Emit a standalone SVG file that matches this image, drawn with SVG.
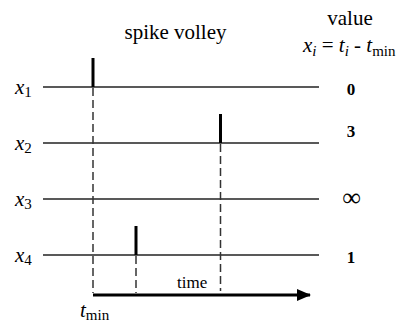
<svg xmlns="http://www.w3.org/2000/svg" width="401" height="324" viewBox="0 0 401 324">
<style>
.lbl{font-size:21px}
.it{font-style:italic}
.sub{font-size:15px}
.val{font-size:17px;font-weight:bold}
.row{stroke:#222;stroke-width:1.5;fill:none}
.spike{stroke:#000;stroke-width:3;fill:none}
.dash{stroke:#333;stroke-width:1.5;stroke-dasharray:8 4;fill:none}
</style>
<defs>
<marker id="arr" markerWidth="14" markerHeight="12" refX="13" refY="6" orient="auto" markerUnits="userSpaceOnUse">
<path d="M0,0 L14,6 L0,12 Z" fill="#000"/>
</marker>
</defs>
<g font-family="'Liberation Serif', 'Times New Roman', serif" fill="#000">
<text class="lbl" x="175.5" y="39" text-anchor="middle">spike volley</text>
<text class="lbl" x="350" y="25" text-anchor="middle">value</text>
<text class="lbl" x="303" y="52"><tspan class="it">x</tspan><tspan class="it sub" dy="4">i</tspan><tspan dy="-4"> = </tspan><tspan class="it">t</tspan><tspan class="it sub" dy="4">i</tspan><tspan dy="-4"> - </tspan><tspan class="it">t</tspan><tspan class="sub" dy="4">min</tspan></text>
<g id="row1">
<text class="lbl" x="15" y="94"><tspan class="it">x</tspan><tspan class="sub" dy="3">1</tspan></text>
<line class="row" x1="43" y1="87" x2="319" y2="87"/>
<line class="spike" x1="93" y1="58" x2="93" y2="87"/>
<text class="val" x="351" y="95" text-anchor="middle">0</text>
</g>
<g id="row2">
<text class="lbl" x="15" y="150"><tspan class="it">x</tspan><tspan class="sub" dy="3">2</tspan></text>
<line class="row" x1="43" y1="143" x2="319" y2="143"/>
<line class="spike" x1="220.5" y1="114" x2="220.5" y2="143"/>
<text class="val" x="351" y="137" text-anchor="middle">3</text>
</g>
<g id="row3">
<text class="lbl" x="15" y="206"><tspan class="it">x</tspan><tspan class="sub" dy="3">3</tspan></text>
<line class="row" x1="43" y1="199" x2="319" y2="199"/>
<text x="351.5" y="206" font-size="26" text-anchor="middle">∞</text>
</g>
<g id="row4">
<text class="lbl" x="15" y="262"><tspan class="it">x</tspan><tspan class="sub" dy="3">4</tspan></text>
<line class="row" x1="43" y1="255" x2="319" y2="255"/>
<line class="spike" x1="136" y1="226" x2="136" y2="255"/>
<text class="val" x="351" y="263" text-anchor="middle">1</text>
</g>
<g id="connectors">
<line class="dash" x1="93" y1="88" x2="93" y2="293"/>
<line class="dash" x1="136" y1="256" x2="136" y2="293"/>
<line class="dash" x1="220.5" y1="144" x2="220.5" y2="291"/>
<line x1="93" y1="295" x2="310" y2="295" stroke="#000" stroke-width="3" marker-end="url(#arr)"/>
</g>
<text x="177" y="288" font-size="17">time</text>
<text class="lbl" x="80" y="317"><tspan class="it">t</tspan><tspan class="sub" dy="3">min</tspan></text>
</g>
</svg>
